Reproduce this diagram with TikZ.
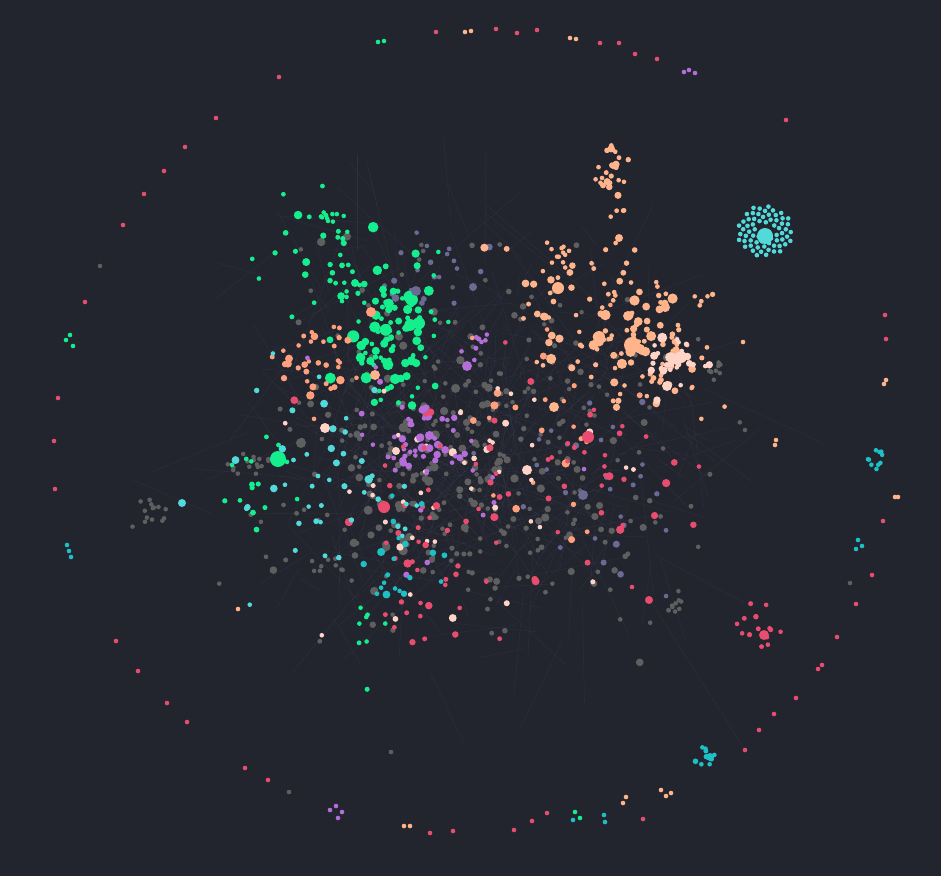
\documentclass[tikz,border=0pt]{standalone}
\definecolor{bgdark}{HTML}{22242E}
\definecolor{nedge}{HTML}{4A4E62}
\definecolor{ngreen}{HTML}{14EE8C}
\definecolor{ncyan}{HTML}{52DADB}
\definecolor{nteal}{HTML}{1FBFC6}
\definecolor{nsalmon}{HTML}{FF9F7C}
\definecolor{npeach}{HTML}{FFB48C}
\definecolor{nlight}{HTML}{FFD3C6}
\definecolor{npink}{HTML}{E84C6E}
\definecolor{npurple}{HTML}{B56DD8}
\definecolor{ngray}{HTML}{5F5F60}
\definecolor{nslate}{HTML}{6A6A94}

% x, y, spread x, spread y, count, colour, growth
\newcommand\cloud[7]{%
  \foreach \k in {1,...,#5}{%
    \pgfmathsetmacro\px{#1+#3*(rand+rand+rand)}%
    \pgfmathsetmacro\py{#2+#4*(rand+rand+rand)}%
    \pgfmathsetmacro\pr{2.3+#7*rnd^3}%
    \fill[#6] (\px,\py) circle[radius=\pr];
  }}

\begin{document}
\begin{tikzpicture}[x=1pt, y=-1pt,
    lnk/.style={draw=nedge, line width=0.35pt, opacity=0.3},
    dt/.style={radius=2.3}]
  \pgfmathsetseed{1907}
  \fill[bgdark] (0,0) rectangle (941,876);
  \useasboundingbox (0,0) rectangle (941,876);

  % faint links
  \foreach \k in {1,...,480}{
    \pgfmathsetmacro\ax{470+100*(rand+rand+rand)}
    \pgfmathsetmacro\ay{440+90*(rand+rand+rand)}
    \pgfmathsetmacro\bx{\ax+70*(rand+rand)}
    \pgfmathsetmacro\by{\ay+70*(rand+rand)}
    \draw[lnk] (\ax,\ay) -- (\bx,\by);
  }
  \draw[lnk] (357,154) -- (357,250);
  \draw[lnk] (745,750) -- (650,600);

  % grey body
  \cloud{480}{450}{105}{90}{300}{ngray}{2}
  \cloud{430}{470}{55}{55}{80}{ngray}{2.5}
  \cloud{150}{510}{8}{8}{14}{ngray}{0}
  \cloud{250}{462}{12}{5}{16}{ngray}{0}
  \cloud{720}{370}{4}{4}{6}{ngray}{0}
  \cloud{677}{604}{4}{5}{8}{ngray}{0}
  \cloud{330}{565}{8}{5}{8}{ngray}{0}

  % slate
  \cloud{430}{270}{30}{20}{22}{nslate}{2}
  \cloud{580}{480}{60}{60}{28}{nslate}{1.5}

  % greens
  \cloud{385}{320}{30}{38}{95}{ngreen}{4}
  \cloud{320}{255}{35}{30}{25}{ngreen}{2}
  \cloud{255}{480}{22}{22}{16}{ngreen}{1}
  \cloud{405}{385}{18}{14}{14}{ngreen}{2}
  \cloud{330}{216}{7}{3}{9}{ngreen}{0}
  \cloud{370}{630}{15}{30}{8}{ngreen}{0.5}

  % salmon / peach
  \cloud{640}{340}{38}{32}{110}{npeach}{3}
  \cloud{565}{300}{35}{35}{30}{npeach}{2}
  \cloud{315}{360}{22}{28}{35}{nsalmon}{2}
  \cloud{608}{178}{8}{13}{24}{npeach}{1.5}
  \cloud{620}{218}{4}{14}{5}{npeach}{0.5}
  \cloud{558}{258}{8}{8}{13}{npeach}{0}
  \cloud{520}{450}{80}{60}{25}{nsalmon}{2}

  % light peach
  \cloud{676}{370}{14}{14}{30}{nlight}{3}
  \cloud{470}{480}{80}{65}{45}{nlight}{2}

  % purple
  \cloud{430}{445}{24}{18}{45}{npurple}{3}
  \cloud{480}{342}{9}{9}{8}{npurple}{0.5}
  \cloud{470}{450}{90}{70}{15}{npurple}{1}

  % pink
  \cloud{500}{500}{80}{65}{60}{npink}{2}
  \cloud{420}{600}{22}{32}{15}{npink}{1}
  \cloud{600}{450}{18}{18}{10}{npink}{1}
  \cloud{757}{633}{13}{13}{14}{npink}{0.5}

  % cyan
  \cloud{330}{470}{42}{55}{45}{ncyan}{2}
  \cloud{390}{555}{25}{40}{20}{nteal}{2}
  \cloud{880}{458}{5}{5}{10}{nteal}{0}
  \cloud{704}{757}{6}{4}{12}{nteal}{1}

  % cyan disc cluster
  \foreach \k in {1,...,64}{
    \fill[ncyan] ({765+3.3*sqrt(\k+6)*cos(137.5*\k)},{231+3.1*sqrt(\k+6)*sin(137.5*\k)}) circle[dt];
  }
  \fill[ncyan] (765,236) circle[radius=8];

  % outer ring
  \foreach \x/\y in {436/32, 496/29, 517/33, 537/30, 600/43, 619/43, 635/54,
      657/59, 786/120, 279/77, 216/118, 185/147, 164/171, 144/194, 123/225,
      85/302, 58/398, 54/441, 55/489, 116/641, 138/671, 167/703, 187/722,
      245/768, 268/780, 430/833, 453/831, 514/830, 532/821, 547/813, 643/819,
      745/750, 759/730, 774/714, 796/698, 818/669, 822/665, 837/637, 856/604,
      872/575, 883/521, 886/339, 885/315, 632/587}
    \fill[npink] (\x,\y) circle[dt];
  \foreach \x/\y in {465/32, 471/31, 570/38, 576/39, 404/826, 410/826, 626/797,
      623/803, 661/790, 666/796, 671/793, 895/497, 898/497, 886/380, 884/384,
      776/440, 775/445, 743/342, 238/609}
    \fill[npeach] (\x,\y) circle[dt];
  \foreach \x/\y in {684/72, 689/70, 695/73, 330/810, 336/806, 342/812, 338/818}
    \fill[npurple] (\x,\y) circle[dt];
  \foreach \x/\y in {378/42, 384/41, 66/340, 70/335, 73/346, 575/812, 580/818}
    \fill[ngreen] (\x,\y) circle[dt];
  \foreach \x/\y in {67/545, 69/551, 71/557, 573/820, 604/815, 605/822,
      858/540, 862/546, 856/549}
    \fill[nteal] (\x,\y) circle[dt];
  \foreach \x/\y in {100/266, 850/583, 745/430, 391/752, 289/792}
    \fill[ngray] (\x,\y) circle[dt];

  % hubs
  \fill[ngreen]   (278,459) circle[radius=8];
  \fill[ngray]    (301,443) circle[radius=5];
  \fill[npeach]   (375,375) circle[radius=5];
  \fill[nlight]   (325,428) circle[radius=5];
  \fill[npeach]   (632,345) circle[radius=8];
  \fill[npeach]   (599,337) circle[radius=6];
  \fill[npeach]   (558,288) circle[radius=6];
  \fill[npeach]   (619,238) circle[radius=4];
  \fill[npeach]   (554,407) circle[radius=5];
  \fill[npink]    (588,437) circle[radius=6];
  \fill[npink]    (384,507) circle[radius=6];
  \fill[npink]    (649,600) circle[radius=4];
  \fill[npink]    (764,635) circle[radius=5];
  \fill[nlight]   (527,470) circle[radius=5];
  \fill[nlight]   (667,386) circle[radius=5];
  \fill[nlight]   (681,357) circle[radius=6];
  \fill[nlight]   (396,451) circle[radius=4];
  \fill[npurple]  (467,366) circle[radius=5];
  \fill[nslate]   (583,495) circle[radius=5];
  \fill[nslate]   (416,291) circle[radius=5];
  \fill[nslate]   (473,287) circle[radius=4];
  \fill[nsalmon]  (371,312) circle[radius=5];
  \fill[ncyan]    (182,503) circle[radius=4];
  \fill[ngreen]   (355,283) circle[radius=4];
  \fill[nteal]    (710,757) circle[radius=4];
\end{tikzpicture}
\end{document}
